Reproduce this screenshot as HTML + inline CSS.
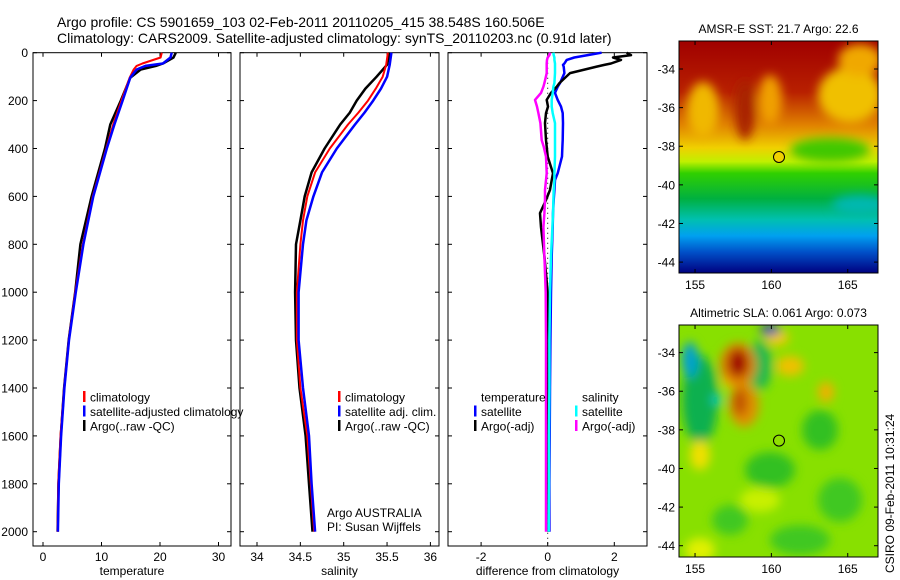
<!DOCTYPE html>
<html><head><meta charset="utf-8"><style>
body{margin:0;background:#fff;}
svg{display:block;font-family:"Liberation Sans",sans-serif;}
</style></head><body>
<svg id="fig" width="900" height="580" viewBox="0 0 900 580">
<defs>
<linearGradient id="sstg" x1="0" y1="0" x2="0" y2="1">
<stop offset="0" stop-color="#a00000"/><stop offset="0.22" stop-color="#b82000"/><stop offset="0.36" stop-color="#e08000"/>
<stop offset="0.46" stop-color="#f0d000"/><stop offset="0.52" stop-color="#c0f000"/><stop offset="0.57" stop-color="#30d000"/><stop offset="0.68" stop-color="#00b040"/>
<stop offset="0.77" stop-color="#00c0b0"/><stop offset="0.84" stop-color="#00a0f0"/><stop offset="0.91" stop-color="#0050c8"/><stop offset="1" stop-color="#000080"/>
</linearGradient>
<filter id="bl" x="-50%" y="-50%" width="200%" height="200%"><feGaussianBlur stdDeviation="5"/></filter>
<clipPath id="c1"><rect x="679" y="41" width="199" height="232"/></clipPath>
<clipPath id="c2"><rect x="679" y="325" width="199" height="232"/></clipPath>
</defs>
<text x="57" y="27" font-size="14">Argo profile: CS 5901659_103 02-Feb-2011 20110205_415 38.548S 160.506E</text>
<text x="57" y="43" font-size="14">Climatology: CARS2009. Satellite-adjusted climatology: synTS_20110203.nc (0.91d later)</text>

<g id="maps">
<g clip-path="url(#c1)">
<rect x="679" y="41" width="199" height="232" fill="url(#sstg)"/>
<g filter="url(#bl)">
<ellipse cx="703" cy="110" rx="16" ry="28" fill="#f0b800"/>
<ellipse cx="745" cy="110" rx="10" ry="30" fill="#a82000"/>
<ellipse cx="770" cy="100" rx="12" ry="25" fill="#f0a000"/>
<ellipse cx="850" cy="95" rx="32" ry="28" fill="#f0c000"/>
<ellipse cx="860" cy="60" rx="22" ry="16" fill="#f0a800"/>
<ellipse cx="830" cy="150" rx="40" ry="12" fill="#40c800"/>
<ellipse cx="860" cy="205" rx="28" ry="10" fill="#00b8b0"/>
</g>
<circle cx="779" cy="157" r="5.5" fill="#f0d000" stroke="#000" stroke-width="1"/>
</g>
<rect x="679" y="41" width="199" height="232" fill="none" stroke="#000"/>
<text x="778.5" y="33" font-size="12" text-anchor="middle">AMSR-E SST: 21.7 Argo: 22.6</text>

<g clip-path="url(#c2)">
<rect x="679" y="325" width="199" height="232" fill="#88e000"/>
<g filter="url(#bl)">
<ellipse cx="700" cy="400" rx="18" ry="45" fill="#10b050"/>
<ellipse cx="760" cy="365" rx="12" ry="25" fill="#20b850"/>
<ellipse cx="770" cy="470" rx="25" ry="18" fill="#30c020"/>
<ellipse cx="820" cy="430" rx="18" ry="20" fill="#30c020"/>
<ellipse cx="840" cy="500" rx="22" ry="22" fill="#40c820"/>
<ellipse cx="730" cy="520" rx="18" ry="15" fill="#40c820"/>
<ellipse cx="800" cy="540" rx="30" ry="15" fill="#40c820"/>
<ellipse cx="760" cy="500" rx="20" ry="12" fill="#c8f000"/>
<ellipse cx="700" cy="550" rx="15" ry="12" fill="#e0f000"/>
<ellipse cx="700" cy="455" rx="10" ry="15" fill="#f0e000"/>
<ellipse cx="690" cy="360" rx="8" ry="18" fill="#00a0d0"/>
<ellipse cx="733" cy="380" rx="12" ry="8" fill="#f0d000"/>
<ellipse cx="777" cy="338" rx="12" ry="8" fill="#f0c800"/>
<ellipse cx="826" cy="392" rx="8" ry="10" fill="#f0b000"/>
<ellipse cx="790" cy="366" rx="14" ry="10" fill="#f0c000"/>
<ellipse cx="738" cy="365" rx="18" ry="22" fill="#e08000"/>
<ellipse cx="744" cy="405" rx="15" ry="22" fill="#e09000"/>
<ellipse cx="738" cy="363" rx="10" ry="14" fill="#a00000"/>
<ellipse cx="740" cy="402" rx="7" ry="14" fill="#c05000"/>
<ellipse cx="770" cy="330" rx="10" ry="5" fill="#0030c0"/>
<ellipse cx="717" cy="400" rx="5" ry="5" fill="#00c8d0"/>
</g>
<circle cx="779" cy="440.6" r="5.5" fill="#90e000" stroke="#000" stroke-width="1"/>
</g>
<rect x="679" y="325" width="199" height="232" fill="none" stroke="#000"/>
<text x="778.5" y="317" font-size="12" text-anchor="middle">Altimetric SLA: 0.061 Argo: 0.073</text>
<text transform="translate(894,573) rotate(-90)" font-size="12">CSIRO 09-Feb-2011 10:31:24</text>
</g>
</svg>
<script>
// ---- data ----
const depthTicks = [0,200,400,600,800,1000,1200,1400,1600,1800,2000];
const tempTicks = [0,10,20,30];
const salTicks = [34,34.5,35,35.5,36];
const salTickLabels = ["34","34.5","35","35.5","36"];
const diffTicks = [-2,0,2];
const latTicks = [-34,-36,-38,-40,-42,-44];
const lonTicks = [155,160,165];

const tDepth = [0,20,45,55,70,105,200,300,400,600,800,1000,1200,1400,1600,1800,2000];
const tempClim = [20.3,20.1,17.0,16.0,15.5,14.8,13.4,12.0,10.8,8.5,6.8,5.5,4.4,3.6,3.0,2.6,2.5];
const tempSat  = [22.0,21.8,20.5,17.5,16.0,14.9,13.6,12.2,10.9,8.6,6.9,5.6,4.45,3.65,3.1,2.7,2.55];
const tempArgo = [22.7,22.3,20.5,19.3,16.7,14.9,13.3,11.5,10.6,8.3,6.4,5.5,4.4,3.6,3.05,2.65,2.5];

const sDepth = [0,50,100,150,200,250,300,400,500,600,700,800,1000,1200,1400,1600,1800,2000];
const salClim = [35.51,35.49,35.45,35.37,35.28,35.17,35.05,34.84,34.67,34.58,34.53,34.50,34.46,34.46,34.50,34.58,34.62,34.66];
const salSat  = [35.55,35.53,35.50,35.43,35.34,35.24,35.13,34.92,34.75,34.65,34.57,34.53,34.48,34.48,34.53,34.60,34.63,34.67];
const salArgo = [35.53,35.50,35.38,35.25,35.15,35.07,34.96,34.78,34.63,34.55,34.50,34.45,34.44,34.45,34.49,34.56,34.60,34.64];

const dDepth = [0,10,20,30,45,51,58,85,127,142,168,197,225,252,294,365,392,434,503,532,573,615,670,728,850,1000,1200,1400,1600,1800,2000];
const dTempSat  = [1.62,1.2,0.8,0.57,0.5,0.46,0.48,0.5,0.37,0.3,0.22,0.3,0.4,0.45,0.46,0.45,0.44,0.43,0.3,0.22,0.2,0.18,0.16,0.15,0.12,0.1,0.08,0.07,0.06,0.05,0.05];
const dTempArgo = [2.37,2.5,1.96,2.2,1.9,1.7,1.47,0.67,0.35,0.27,0.1,-0.03,0.01,-0.05,-0.08,-0.05,-0.03,0.0,0.16,0.12,0.07,-0.05,-0.23,-0.2,-0.1,0.0,0.02,0.02,0.02,0.02,0.02];
const dSalSat   = [0.17,0.18,0.2,0.2,0.22,0.22,0.22,0.22,0.2,0.17,0.15,0.12,0.12,0.15,0.22,0.22,0.22,0.22,0.2,0.2,0.18,0.17,0.16,0.14,0.1,0.07,0.05,0.05,0.04,0.04,0.03];
const dSalArgo  = [0.07,0.05,0.0,-0.02,-0.03,-0.03,-0.03,-0.03,-0.1,-0.13,-0.2,-0.38,-0.32,-0.28,-0.22,-0.18,-0.12,-0.05,-0.03,-0.05,-0.08,-0.08,-0.1,-0.13,-0.1,-0.06,-0.05,-0.05,-0.05,-0.05,-0.05];

// ---- layout ----
const NS = "http://www.w3.org/2000/svg";
const svg = document.getElementById('fig');
const PT = 52.7, PB = 546, Y0 = 52.7, YK = 0.2395;
const yOf = d => Y0 + d * YK;
function mk(tag, attrs, parent) {
  const e = document.createElementNS(NS, tag);
  for (const k in attrs) e.setAttribute(k, attrs[k]);
  (parent || svg).appendChild(e);
  return e;
}
const panels = [
  {name:'temperature', x0:33, x1:231, v0:0, px0:43, k:5.85, ticks:tempTicks, labels:tempTicks.map(String), xlabel:'temperature'},
  {name:'salinity', x0:240, x1:439, v0:34, px0:257, k:86.7, ticks:salTicks, labels:salTickLabels, xlabel:'salinity'},
  {name:'difference', x0:448, x1:647, v0:0, px0:547.7, k:33.3, ticks:diffTicks, labels:diffTicks.map(String), xlabel:'difference from climatology'}
];
panels.forEach((p, i) => {
  const g = mk('g', {});
  
  
  p.g = g;
  p.xOf = v => p.px0 + (v - p.v0) * p.k;
  const r = mk('rect', {x:p.x0, y:PT, width:p.x1-p.x0, height:PB-PT, fill:'none', stroke:'#000', 'stroke-width':1}, g);
  
  
  depthTicks.forEach(d => {
    const y = yOf(d);
    mk('line', {x1:p.x0, x2:p.x0+4, y1:y, y2:y, stroke:'#000'}, g);
    mk('line', {x1:p.x1-4, x2:p.x1, y1:y, y2:y, stroke:'#000'}, g);
    if (i === 0) {
      const t = mk('text', {x:28, y:y+4.5, 'font-size':12, 'text-anchor':'end'}, g);
      t.textContent = String(d);
      
      
    }
  });
  p.ticks.forEach((v, j) => {
    const x = p.xOf(v);
    mk('line', {x1:x, x2:x, y1:PT, y2:PT+4, stroke:'#000'}, g);
    mk('line', {x1:x, x2:x, y1:PB-4, y2:PB, stroke:'#000'}, g);
    const t = mk('text', {x:x, y:PB+15, 'font-size':12, 'text-anchor':'middle'}, g);
    t.textContent = p.labels[j];
    
    
  });
  const xl = mk('text', {x:(p.x0+p.x1)/2, y:575, 'font-size':12, 'text-anchor':'middle'}, g);
  xl.textContent = p.xlabel;
  
  
});
function line(p, depths, vals, color, w, name) {
  const pts = depths.map((d, i) => p.xOf(vals[i]).toFixed(1) + ',' + yOf(d).toFixed(1)).join(' ');
  const l = mk('polyline', {points:pts, fill:'none', stroke:color, 'stroke-width':w, 'stroke-linejoin':'round'}, p.g);
  
  
}
const [pT, pS, pD] = panels;
line(pT, tDepth, tempArgo, '#000', 2.5, 'temp-argo-line');
line(pT, tDepth, tempClim, '#f00', 2, 'temp-climatology-line');
line(pT, tDepth, tempSat, '#00f', 2.5, 'temp-satellite-line');
line(pS, sDepth, salArgo, '#000', 2.5, 'sal-argo-line');
line(pS, sDepth, salClim, '#f00', 2, 'sal-climatology-line');
line(pS, sDepth, salSat, '#00f', 2.5, 'sal-satellite-line');
const zl = mk('line', {x1:pD.xOf(0), x2:pD.xOf(0), y1:PT, y2:PB, stroke:'#000', 'stroke-dasharray':'1,4'}, pD.g);


line(pD, dDepth, dTempSat, '#00f', 2.5, 'diff-temp-satellite-line');
line(pD, dDepth, dTempArgo, '#000', 2.5, 'diff-temp-argo-line');
line(pD, dDepth, dSalSat, '#0ff', 2.5, 'diff-sal-satellite-line');
line(pD, dDepth, dSalArgo, '#f0f', 2.5, 'diff-sal-argo-line');

function legend(g, x, y, color, label) {
  if (color) {
    const m = mk('rect', {x:x, y:y-6, width:2.5, height:11, fill:color}, g);
    
    
  }
  const t = mk('text', {x:x+7, y:y+4.5, 'font-size':12}, g);
  t.textContent = label;
  
  
}
const rows = [397, 411.5, 426];
legend(pT.g, 83, rows[0], '#f00', 'climatology');
legend(pT.g, 83, rows[1], '#00f', 'satellite-adjusted climatology');
legend(pT.g, 83, rows[2], '#000', 'Argo(..raw -QC)');
legend(pS.g, 338, rows[0], '#f00', 'climatology');
legend(pS.g, 338, rows[1], '#00f', 'satellite adj. clim.');
legend(pS.g, 338, rows[2], '#000', 'Argo(..raw -QC)');
legend(pD.g, 474, rows[0], null, 'temperature');
legend(pD.g, 474, rows[1], '#00f', 'satellite');
legend(pD.g, 474, rows[2], '#000', 'Argo(-adj)');
legend(pD.g, 575, rows[0], null, 'salinity');
legend(pD.g, 575, rows[1], '#0ff', 'satellite');
legend(pD.g, 575, rows[2], '#f0f', 'Argo(-adj)');
const a1 = mk('text', {x:327, y:517, 'font-size':12}, pS.g);
a1.textContent = 'Argo AUSTRALIA';


const a2 = mk('text', {x:327, y:531, 'font-size':12}, pS.g);
a2.textContent = 'PI: Susan Wijffels';



const LON0 = 153.95, LONK = 15.27, LATK = 19.31;
[{top:41, bot:273, lat0:-32.55}, {top:325, bot:557, lat0:-32.57}].forEach((m, mi) => {
  const g = mk('g', {});
  
  
  latTicks.forEach(lat => {
    const y = m.top + (m.lat0 - lat) * LATK;
    mk('line', {x1:679, x2:683, y1:y, y2:y, stroke:'#000'}, g);
    mk('line', {x1:874, x2:878, y1:y, y2:y, stroke:'#000'}, g);
    const t = mk('text', {x:675, y:y+4.5, 'font-size':12, 'text-anchor':'end'}, g);
    t.textContent = String(lat);
    
    
  });
  lonTicks.forEach(lon => {
    const x = 679 + (lon - LON0) * LONK;
    mk('line', {x1:x, x2:x, y1:m.top, y2:m.top+4, stroke:'#000'}, g);
    mk('line', {x1:x, x2:x, y1:m.bot-4, y2:m.bot, stroke:'#000'}, g);
    const t = mk('text', {x:x, y:m.bot+16, 'font-size':12, 'text-anchor':'middle'}, g);
    t.textContent = String(lon);
    
    
  });
});
</script>
</body></html>
